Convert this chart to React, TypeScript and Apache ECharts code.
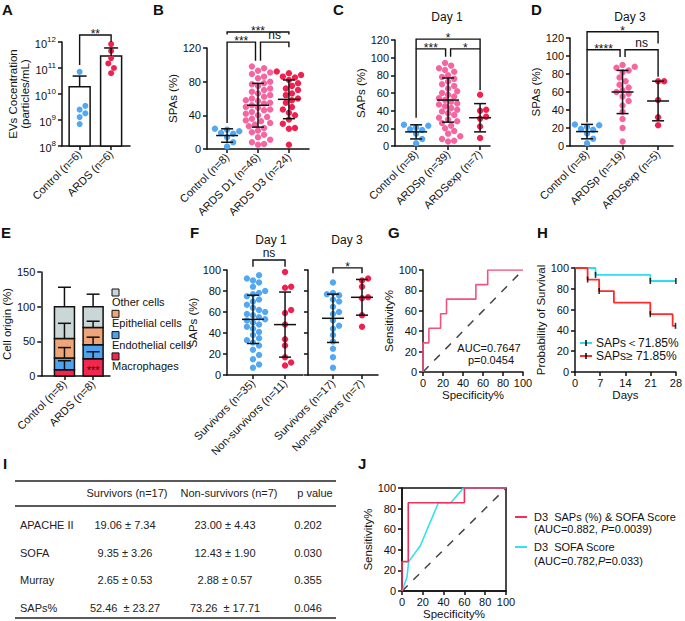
import React, { useEffect, useRef } from 'react';
import * as echarts from 'echarts';

const FONT = '"Liberation Sans", Arial, Helvetica, sans-serif';
const BLACK = '#111';
const BLUE = '#52a8f2';
const PINK = '#f665a0';
const RED = '#f0204f';

// ---------- A ----------
const aCategories = ['Control (n=6)', 'ARDS (n=6)'];
const aControl = [7.1e10, 3.5e9, 2.5e9, 1.8e9, 1.3e9, 7.0e8];
const aArds = [8.3e11, 4.5e11, 2.4e11, 1.5e11, 1.0e11, 6.3e10];
const aMean = [1.9e10, 2.9e11];
const aUpper = [4.9e10, 5.9e11];
const aExpMin = 8;
const aExpMax = 12;

// ---------- B ----------
const bCategories = ['Control (n=8)', 'ARDS D1 (n=46)', 'ARDS D3 (n=24)'];
const bControl = [24, 23, 21, 19, 18, 14, 8, 3];
const bD1 = [98, 96, 93, 91, 89, 86, 84, 80, 78, 77, 75, 72, 70, 68, 66, 64, 62, 60, 58, 57, 55, 54, 52, 50, 49, 47, 46, 44, 42, 40, 38, 36, 34, 33, 31, 29, 27, 25, 22, 20, 17, 14, 11, 8, 6, 5];
const bD3 = [92, 90, 88, 86, 85, 82, 78, 75, 72, 70, 66, 64, 60, 58, 55, 50, 47, 43, 40, 35, 30, 25, 24, 5];
const bMean = [16, 52, 59];
const bSD = [8, 26, 23];

// ---------- C ----------
const cCategories = ['Control (n=8)', 'ARDSp (n=39)', 'ARDSexp (n=7)'];
const cControl = [24, 23, 21, 19, 18, 14, 8, 3];
const cArdsp = [94, 91, 88, 86, 84, 80, 78, 76, 73, 70, 68, 65, 62, 60, 58, 56, 54, 52, 50, 48, 47, 45, 43, 41, 39, 37, 35, 32, 30, 28, 26, 23, 20, 17, 14, 11, 8, 6, 5];
const cArdsexp = [58, 41, 40, 33, 31, 22, 9];
const cMean = [16, 52, 32];
const cSD = [8, 25, 16];

// ---------- D ----------
const dCategories = ['Control (n=8)', 'ARDSp (n=19)', 'ARDSexp (n=5)'];
const dControl = [24, 23, 21, 19, 18, 14, 8, 3];
const dArdsp = [90, 88, 87, 84, 82, 76, 72, 68, 65, 62, 60, 58, 55, 50, 45, 38, 30, 20, 5];
const dArdsexp = [72, 72, 51, 32, 23];
const dMean = [16, 60, 50];
const dSD = [8, 24, 22];

// ---------- E ----------
const eCategories = ['Control (n=8)', 'ARDS (n=8)'];
const eNames = ['Macrophages', 'Endothelial cells', 'Epithelial cells', 'Other cells'];
const eMacro = [9, 25];
const eEndo = [17, 20];
const eEpi = [28, 25];
const eOther = [46, 30];
const eMacroSD = [13, 10];
const eEndoSD = [15, 11];
const eEpiSD = [22, 9];
const eOtherSD = [28, 18];
const eMacroMarks = ['', '***'];
const eColors = ['#f2274f', '#4da3ef', '#eea57a', '#cbd6d6'];

// ---------- F ----------
const f1Categories = ['Survivors (n=35)', 'Non-survivors (n=11)'];
const f2Categories = ['Survivors (n=17)', 'Non-survivors (n=7)'];
const f1Surv = [95, 92, 90, 88, 84, 80, 78, 77, 75, 72, 70, 67, 64, 62, 60, 58, 57, 55, 53, 52, 50, 48, 46, 44, 41, 38, 35, 33, 31, 28, 24, 19, 15, 10, 7];
const f1Non = [98, 84, 83, 62, 59, 48, 34, 28, 17, 12, 9];
const f2Surv = [88, 78, 77, 76, 72, 70, 65, 60, 58, 52, 47, 44, 38, 32, 25, 17, 7];
const f2Non = [92, 90, 84, 74, 73, 57, 46];
const f1Mean = [53, 48];
const f1SD = [23, 31];
const f2Mean = [54, 74];
const f2SD = [23, 17];

// ---------- G ----------
const gFpr = [0, 0, 5.9, 5.9, 17.6, 17.6, 23.5, 23.5, 52.9, 52.9, 64.7, 64.7, 100];
const gTpr = [0, 28.6, 28.6, 42.9, 42.9, 57.1, 57.1, 71.4, 71.4, 85.7, 85.7, 100, 100];
const diagonal = [0, 100];

// ---------- H ----------
const hLowName = 'SAPs＜71.85%';
const hHighName = 'SAPs≥ 71.85%';
const hLowDays = [0, 5.7, 20.9, 28];
const hLowSurv = [100, 93.3, 87.5, 87.5];
const hHighDays = [0, 3.5, 6.7, 10.8, 20.9, 27.1, 27.9];
const hHighSurv = [100, 88.9, 77.8, 66.7, 55.6, 44.4, 44.4];
const hLowCensorDays = [5.7, 20.9, 28];
const hLowCensorSurv = [93.3, 87.5, 87.5];
const hHighCensorDays = [3.5, 6.7, 20.9, 27.9];
const hHighCensorSurv = [88.9, 77.8, 55.6, 44.4];

// ---------- I ----------
const iHeaders = ['Survivors (n=17)', 'Non-survivors (n=7)', 'p value'];
const iLabels = ['APACHE II', 'SOFA', 'Murray', 'SAPs%'];
const iSurvivors = ['19.06 ± 7.34', '9.35 ± 3.26', '2.65 ± 0.53', '52.46  ± 23.27'];
const iNonSurvivors = ['23.00 ± 4.43', '12.43 ± 1.90', '2.88 ± 0.57', '73.26  ± 17.71'];
const iPValues = ['0.202', '0.030', '0.355', '0.046'];

// ---------- J ----------
const jRedFpr = [0, 0, 6, 6, 60, 60, 100];
const jRedTpr = [0, 28.6, 28.6, 85.7, 85.7, 100, 100];
const jCyanFpr = [0, 4.8, 6.4, 17.6, 35, 47, 59, 100];
const jCyanTpr = [0, 13.7, 28.6, 44, 85.7, 85.7, 100, 100];

// ---------- helpers ----------
const beeswarm = (pts: number[][], r: number) => {
  const d = 2 * r * 0.95;
  const order = pts.map((_, i) => i).sort((a, b) => pts[b][1] - pts[a][1]);
  const placed: number[][] = [];
  const out: number[][] = new Array(pts.length);
  for (const i of order) {
    const [cx, cy] = pts[i];
    let chosen = cx;
    for (let k = 0; k < 60; k++) {
      const off = k === 0 ? 0 : (k % 2 === 1 ? 1 : -1) * Math.ceil(k / 2) * d * 0.5;
      const x = cx + off;
      if (placed.every((q) => (q[0] - x) ** 2 + (q[1] - cy) ** 2 >= d * d)) {
        chosen = x;
        break;
      }
    }
    placed.push([chosen, cy]);
    out[i] = [chosen, cy];
  }
  return out;
};

const dots = (axis: number, cat: number, vals: number[], color: string, r = 3.2) => ({
  type: 'custom',
  xAxisIndex: axis,
  yAxisIndex: axis,
  clip: false,
  z: 3,
  silent: true,
  data: vals.map((v) => [cat, v]),
  renderItem: (params: any, api: any) => {
    const ctx = params.context;
    if (!ctx.pos) ctx.pos = beeswarm(vals.map((v) => api.coord([cat, v])), r);
    const p = ctx.pos[params.dataIndex];
    return { type: 'circle', shape: { cx: p[0], cy: p[1], r }, style: { fill: color } };
  },
});

const errBars = (axis: number, means: number[], sds: number[], o: any = {}) => {
  const meanW = o.meanW ?? 22;
  const capW = o.capW ?? 12;
  const down = o.down ?? true;
  const showMean = o.showMean ?? true;
  return {
    type: 'custom',
    xAxisIndex: axis,
    yAxisIndex: axis,
    clip: false,
    z: 4,
    silent: true,
    data: means.map((m, i) => [i, m, sds[i]]),
    renderItem: (params: any, api: any) => {
      const x = api.value(0);
      const m = api.value(1);
      const s = api.value(2);
      const c = api.coord([x, m]);
      const t = api.coord([x, m + s]);
      const b = api.coord([x, down ? m - s : m]);
      const ls = { stroke: BLACK, lineWidth: 1.5 };
      const ch: any[] = [
        { type: 'line', shape: { x1: c[0], y1: t[1], x2: c[0], y2: b[1] }, style: ls },
        { type: 'line', shape: { x1: c[0] - capW / 2, y1: t[1], x2: c[0] + capW / 2, y2: t[1] }, style: ls },
      ];
      if (down) ch.push({ type: 'line', shape: { x1: c[0] - capW / 2, y1: b[1], x2: c[0] + capW / 2, y2: b[1] }, style: ls });
      if (showMean) ch.push({ type: 'line', shape: { x1: c[0] - meanW / 2, y1: c[1], x2: c[0] + meanW / 2, y2: c[1] }, style: ls });
      return { type: 'group', children: ch };
    },
  };
};

const brackets = (axis: number, list: any[]) => ({
  type: 'custom',
  xAxisIndex: axis,
  yAxisIndex: axis,
  clip: false,
  z: 5,
  silent: true,
  data: list.map((b) => [b.from, b.y, b.to, b.leg1, b.leg2]),
  renderItem: (params: any, api: any) => {
    const b = list[params.dataIndex];
    const p1 = api.coord([api.value(0), api.value(1)]);
    const p2 = api.coord([api.value(2), api.value(1)]);
    const l1 = api.coord([api.value(0), api.value(3)]);
    const l2 = api.coord([api.value(2), api.value(4)]);
    const x1 = p1[0] + (b.dx1 || 0);
    const x2 = p2[0] + (b.dx2 || 0);
    const star = b.label.indexOf('*') >= 0;
    return {
      type: 'group',
      children: [
        {
          type: 'polyline',
          shape: { points: [[x1, l1[1]], [x1, p1[1]], [x2, p1[1]], [x2, l2[1]]] },
          style: { stroke: BLACK, lineWidth: 1.4, fill: null },
        },
        {
          type: 'text',
          style: {
            text: b.label,
            x: (x1 + x2) / 2,
            y: p1[1] + (star ? 5 : -1),
            align: 'center',
            verticalAlign: 'bottom',
            fontSize: 12,
            fontFamily: FONT,
            fill: BLACK,
          },
        },
      ],
    };
  },
});

const axisLine = { show: true, onZero: false, lineStyle: { color: BLACK, width: 1.5 } };
const tickStyle = { color: BLACK, width: 1.5 };
const labelStyle = { color: BLACK, fontSize: 11, fontFamily: FONT };

const catAxis = (grid: number, cats: string[], min: number, max: number) => {
  const idx = cats.map((_, i) => i);
  return {
    type: 'value',
    gridIndex: grid,
    min,
    max,
    axisLine,
    axisTick: { show: true, length: 4, lineStyle: tickStyle, customValues: idx },
    axisLabel: {
      ...labelStyle,
      customValues: idx,
      formatter: (v: number) => cats[Math.round(v)] ?? '',
      rotate: 45,
      margin: 6,
    },
    splitLine: { show: false },
  };
};

const valAxis = (grid: number, min: number, max: number, interval: number, name: string, nameGap: number, extra: any = {}) => ({
  type: 'value',
  gridIndex: grid,
  min,
  max,
  interval,
  name,
  nameLocation: 'middle',
  nameGap,
  nameTextStyle: { color: BLACK, fontSize: 11.5, fontFamily: FONT },
  axisLine,
  axisTick: { show: true, length: 4, lineStyle: tickStyle },
  axisLabel: { ...labelStyle, margin: 6 },
  splitLine: { show: false },
  ...extra,
});

const numAxisX = (grid: number, min: number, max: number, interval: number, name: string, nameGap: number) => ({
  ...valAxis(grid, min, max, interval, name, nameGap),
  axisLabel: { ...labelStyle, margin: 5 },
});

const pairs = (xs: number[], ys: number[]) => xs.map((x, i) => [x, ys[i]]);

const text = (t: string, x: number, y: number, o: any = {}) => ({
  type: 'text',
  x,
  y,
  silent: true,
  style: {
    text: t,
    fill: o.fill ?? BLACK,
    fontSize: o.fontSize ?? 11,
    fontWeight: o.fontWeight ?? 'normal',
    fontFamily: FONT,
    align: o.align ?? 'left',
    verticalAlign: o.verticalAlign ?? 'middle',
    rich: o.rich,
  },
});

const hline = (x1: number, x2: number, y: number, color = BLACK, w = 1.5) => ({
  type: 'line',
  silent: true,
  shape: { x1, y1: y, x2, y2: y },
  style: { stroke: color, lineWidth: w },
});

export default function App() {
  const ref = useRef<HTMLDivElement>(null);
  useEffect(() => {
    if (!ref.current) return;
    const chart = echarts.init(ref.current, null, { renderer: 'svg' });

    const grids = [
      { left: 62, top: 42, width: 68, height: 104 }, // A 0
      { left: 207, top: 48, width: 102, height: 101 }, // B 1
      { left: 395, top: 40, width: 95, height: 106 }, // C 2
      { left: 570, top: 38, width: 103, height: 108 }, // D 3
      { left: 39, top: 272, width: 71, height: 104 }, // E 4
      { left: 227, top: 270, width: 76, height: 105 }, // F1 5
      { left: 308, top: 270, width: 70, height: 105 }, // F2 6
      { left: 423, top: 270, width: 100, height: 102 }, // G 7
      { left: 575, top: 268, width: 102, height: 104 }, // H 8
      { left: 402, top: 488, width: 104, height: 105, show: true, borderColor: BLACK, borderWidth: 1.5, backgroundColor: 'transparent' }, // J 9
    ];

    const xAxis = [
      catAxis(0, aCategories, -0.56, 1.6),
      catAxis(1, bCategories, -0.65, 2.65),
      catAxis(2, cCategories, -0.66, 2.31),
      catAxis(3, dCategories, -0.48, 2.42),
      catAxis(4, eCategories, -0.81, 1.59),
      catAxis(5, f1Categories, -0.81, 1.56),
      catAxis(6, f2Categories, -0.86, 1.55),
      numAxisX(7, 0, 100, 20, 'Specificity%', 17),
      numAxisX(8, 0, 28, 7, 'Days', 16),
      numAxisX(9, 0, 100, 20, 'Specificity%', 16),
    ];

    const yAxis = [
      valAxis(0, aExpMin, aExpMax, 1, 'EVs Cocentration\n(particles/mL)', 24, {
        axisLabel: {
          ...labelStyle,
          margin: 6,
          formatter: (v: number) => '{b|10}{s|' + v + '}',
          rich: {
            b: { fontSize: 11, fontFamily: FONT, color: BLACK, verticalAlign: 'bottom' },
            s: { fontSize: 8, fontFamily: FONT, color: BLACK, verticalAlign: 'bottom', padding: [0, 0, 6, 0] },
          },
        },
      }),
      valAxis(1, 0, 120, 40, 'SPAs (%)', 24),
      valAxis(2, 0, 120, 20, 'SAPs (%)', 25),
      valAxis(3, 0, 120, 20, 'SPAs (%)', 26),
      valAxis(4, 0, 150, 50, 'Cell origin (%)', 22),
      valAxis(5, 0, 100, 20, 'SAPs (%)', 25),
      valAxis(6, 0, 100, 20, '', 10, { axisLabel: { show: false } }),
      valAxis(7, 0, 100, 20, 'Sensitivity%', 23),
      valAxis(8, 0, 100, 20, 'Probability of Survival', 25),
      valAxis(9, 0, 100, 20, 'Sensitivity%', 27),
    ];

    const lg = (v: number) => Math.log10(v);
    const aLogMean = aMean.map(lg);
    const aLogSD = aUpper.map((u, i) => lg(u) - aLogMean[i]);

    const eStacks = [eMacro, eEndo, eEpi, eOther];
    const eSDs = [eMacroSD, eEndoSD, eEpiSD, eOtherSD];
    const eTops = eStacks.map((_, k) => eCategories.map((__, c) => eStacks.slice(0, k + 1).reduce((s, arr) => s + arr[c], 0)));

    const series: any[] = [
      // A bars
      {
        type: 'custom',
        xAxisIndex: 0,
        yAxisIndex: 0,
        z: 2,
        silent: true,
        data: aLogMean.map((m, i) => [i, m]),
        renderItem: (params: any, api: any) => {
          const top = api.coord([api.value(0), api.value(1)]);
          const base = api.coord([api.value(0), aExpMin]);
          return {
            type: 'rect',
            shape: { x: top[0] - 10.5, y: top[1], width: 21, height: base[1] - top[1] },
            style: { fill: '#fff', stroke: BLACK, lineWidth: 1.5 },
          };
        },
      },
      dots(0, 0, aControl.map(lg), BLUE, 3),
      dots(0, 1, aArds.map(lg), RED, 3),
      errBars(0, aLogMean, aLogSD, { down: false, showMean: false, capW: 14 }),
      brackets(0, [{ from: 0, to: 1, y: 12.27, leg1: 11.12, leg2: 12.0, label: '**' }]),

      // B
      dots(1, 0, bControl, BLUE),
      dots(1, 1, bD1, PINK),
      dots(1, 2, bD3, RED),
      errBars(1, bMean, bSD),
      brackets(1, [
        { from: 0, to: 2, y: 139, leg1: 136, leg2: 136, label: '***' },
        { from: 0, to: 1, y: 127, leg1: 31, leg2: 105, label: '***', dx2: -2.5 },
        { from: 1, to: 2, y: 127, leg1: 105, leg2: 121, label: 'ns', dx1: 2.5 },
      ]),

      // C
      dots(2, 0, cControl, BLUE),
      dots(2, 1, cArdsp, PINK),
      dots(2, 2, cArdsexp, RED),
      errBars(2, cMean, cSD),
      brackets(2, [
        { from: 0, to: 2, y: 121, leg1: 110, leg2: 110, label: '*' },
        { from: 0, to: 1, y: 110, leg1: 32, leg2: 101, label: '***', dx2: -2.5 },
        { from: 1, to: 2, y: 110, leg1: 101, leg2: 63, label: '*', dx1: 2.5 },
      ]),

      // D
      dots(3, 0, dControl, BLUE),
      dots(3, 1, dArdsp, PINK),
      dots(3, 2, dArdsexp, RED),
      errBars(3, dMean, dSD),
      brackets(3, [
        { from: 0, to: 2, y: 127, leg1: 107, leg2: 114, label: '*' },
        { from: 0, to: 1, y: 107, leg1: 26, leg2: 99, label: '****', dx2: -2.5 },
        { from: 1, to: 2, y: 107, leg1: 99, leg2: 77, label: 'ns', dx1: 2.5 },
      ]),

      // E stacked segments
      ...eStacks.map((arr, k) => ({
        type: 'custom',
        xAxisIndex: 4,
        yAxisIndex: 4,
        z: 2,
        silent: true,
        data: arr.map((v, c) => [c, eTops[k][c] - v, eTops[k][c]]),
        renderItem: (params: any, api: any) => {
          const b = api.coord([api.value(0), api.value(1)]);
          const t = api.coord([api.value(0), api.value(2)]);
          const children: any[] = [
            {
              type: 'rect',
              shape: { x: t[0] - 10, y: t[1], width: 20, height: b[1] - t[1] },
              style: { fill: eColors[k], stroke: BLACK, lineWidth: 1.5 },
            },
          ];
          const mark = k === 0 ? eMacroMarks[params.dataIndex] : '';
          if (mark) {
            children.push({
              type: 'text',
              style: {
                text: mark,
                x: t[0],
                y: (t[1] + b[1]) / 2 + 3,
                align: 'center',
                verticalAlign: 'middle',
                fontSize: 11,
                fontFamily: FONT,
                fill: BLACK,
              },
            });
          }
          return { type: 'group', children };
        },
      })),
      ...eTops.map((tops, k) => errBars(4, tops, eSDs[k], { down: false, showMean: false, capW: 13 })),

      // F
      dots(5, 0, f1Surv, BLUE),
      dots(5, 1, f1Non, RED),
      errBars(5, f1Mean, f1SD),
      brackets(5, [{ from: 0, to: 1, y: 109.5, leg1: 103, leg2: 103, label: 'ns' }]),
      dots(6, 0, f2Surv, BLUE),
      dots(6, 1, f2Non, RED),
      errBars(6, f2Mean, f2SD),
      brackets(6, [{ from: 0, to: 1, y: 102, leg1: 97, leg2: 97, label: '*' }]),

      // G
      {
        type: 'line',
        xAxisIndex: 7,
        yAxisIndex: 7,
        data: pairs(gFpr, gTpr),
        symbol: 'none',
        lineStyle: { color: '#f4517d', width: 1.6 },
        z: 3,
      },
      {
        type: 'line',
        xAxisIndex: 7,
        yAxisIndex: 7,
        data: pairs(diagonal, diagonal),
        symbol: 'none',
        lineStyle: { color: '#444', width: 1.5, type: [8, 8] },
        z: 2,
      },

      // H
      {
        type: 'line',
        name: hLowName,
        xAxisIndex: 8,
        yAxisIndex: 8,
        step: 'end',
        data: pairs(hLowDays, hLowSurv),
        symbol: 'none',
        lineStyle: { color: '#2fdcf0', width: 1.8 },
        z: 3,
      },
      {
        type: 'line',
        name: hHighName,
        xAxisIndex: 8,
        yAxisIndex: 8,
        step: 'end',
        data: pairs(hHighDays, hHighSurv),
        symbol: 'none',
        lineStyle: { color: '#ff2a2a', width: 1.8 },
        z: 3,
      },
      {
        type: 'scatter',
        xAxisIndex: 8,
        yAxisIndex: 8,
        data: [...pairs(hLowCensorDays, hLowCensorSurv), ...pairs(hHighCensorDays, hHighCensorSurv)],
        symbol: 'rect',
        symbolSize: [1.6, 6],
        itemStyle: { color: '#000' },
        z: 4,
        silent: true,
      },

      // J
      {
        type: 'line',
        xAxisIndex: 9,
        yAxisIndex: 9,
        data: pairs(jCyanFpr, jCyanTpr),
        symbol: 'none',
        lineStyle: { color: '#35e0f0', width: 1.6 },
        z: 3,
      },
      {
        type: 'line',
        xAxisIndex: 9,
        yAxisIndex: 9,
        data: pairs(jRedFpr, jRedTpr),
        symbol: 'none',
        lineStyle: { color: '#f0305a', width: 1.6 },
        z: 4,
      },
      {
        type: 'line',
        xAxisIndex: 9,
        yAxisIndex: 9,
        data: pairs(diagonal, diagonal),
        symbol: 'none',
        lineStyle: { color: '#444', width: 1.5, type: [8, 8] },
        z: 2,
      },
    ];

    const letters: [string, number, number][] = [
      ['A', 2, 9], ['B', 153, 9], ['C', 333, 9], ['D', 531, 9],
      ['E', 1, 232], ['F', 190, 232], ['G', 388, 232], ['H', 537, 232],
      ['I', 3, 463], ['J', 358, 463],
    ];

    const elements: any[] = [
      ...letters.map(([t, x, y]) => text(t, x, y, { fontSize: 15, fontWeight: 'bold' })),
      text('Day 1', 447, 17, { align: 'center', fontSize: 12 }),
      text('Day 3', 630, 17, { align: 'center', fontSize: 12 }),
      text('Day 1', 271, 240, { align: 'center', fontSize: 12 }),
      text('Day 3', 347, 240, { align: 'center', fontSize: 12 }),
      text('AUC=0.7647', 489, 348, { align: 'center' }),
      text('p=0.0454', 491, 360, { align: 'center' }),
      // E legend
      ...eNames.slice().reverse().flatMap((n, i) => {
        const k = eNames.length - 1 - i;
        const y = 289 + i * 21.3;
        return [
          { type: 'rect', silent: true, shape: { x: 112, y, width: 7, height: 7 }, style: { fill: eColors[k], stroke: BLACK, lineWidth: 1 } },
          text(n, 112, y + 13, {}),
        ];
      }),
      // H legend
      hline(580, 592, 343, '#2fdcf0', 2),
      { type: 'line', silent: true, shape: { x1: 586, y1: 340, x2: 586, y2: 346 }, style: { stroke: '#000', lineWidth: 1.5 } },
      text(hLowName, 596, 343, { fontSize: 12 }),
      hline(580, 592, 356, '#ff2a2a', 2),
      { type: 'line', silent: true, shape: { x1: 586, y1: 353, x2: 586, y2: 359 }, style: { stroke: '#000', lineWidth: 1.5 } },
      text(hHighName, 596, 356, { fontSize: 12 }),
      // J legend
      hline(515, 527, 517, '#f0305a', 2),
      text('D3  SAPs (%) & SOFA Score', 534, 517),
      text('(AUC=0.882, {i|P}=0.0039)', 534, 529, { rich: { i: { fontStyle: 'italic', fontSize: 11, fontFamily: FONT, fill: BLACK } } }),
      hline(515, 527, 547, '#35e0f0', 2),
      text('D3  SOFA Score', 534, 547),
      text('(AUC=0.782,{i|P}=0.033)', 534, 561, { rich: { i: { fontStyle: 'italic', fontSize: 11, fontFamily: FONT, fill: BLACK } } }),
      // I table
      hline(15, 336, 481, '#222', 1.6),
      hline(15, 336, 506, '#222', 1.6),
      hline(15, 336, 618, '#222', 1.6),
      text(iHeaders[0], 127, 493, { align: 'center', fill: '#222' }),
      text(iHeaders[1], 229, 493, { align: 'center', fill: '#222' }),
      text(iHeaders[2], 315, 493, { align: 'center', fill: '#222' }),
      ...iLabels.flatMap((lab, r) => {
        const y = 525 + r * 27.5;
        return [
          text(lab, 20, y, { fill: '#222' }),
          text(iSurvivors[r], 125, y, { align: 'center', fill: '#222' }),
          text(iNonSurvivors[r], 225, y, { align: 'center', fill: '#222' }),
          text(iPValues[r], 308, y, { align: 'center', fill: '#222' }),
        ];
      }),
    ];

    chart.setOption({
      animation: false,
      backgroundColor: '#fff',
      textStyle: { fontFamily: FONT },
      grid: grids,
      xAxis,
      yAxis,
      series,
      graphic: { elements },
    });
    return () => chart.dispose();
  }, []);
  return <div ref={ref} style={{ position: 'absolute', left: 0, top: 0, width: 685, height: 621 }} />;
}
